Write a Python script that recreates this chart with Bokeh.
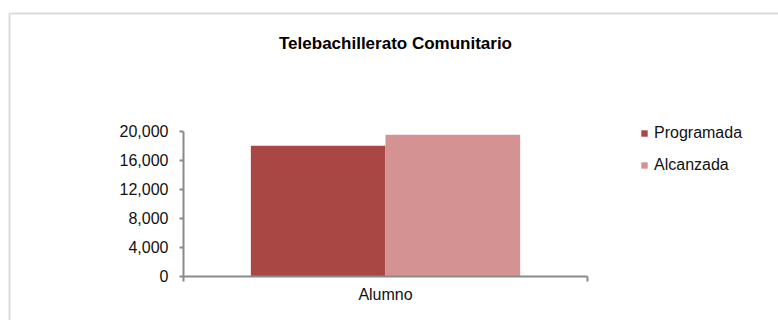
from bokeh.plotting import figure
from bokeh.models import (Range1d, FixedTicker, NumeralTickFormatter, Legend, LegendItem,
                          Label, BoxAnnotation, ColumnDataSource, LinearAxis)
from bokeh.embed import file_html
from bokeh.resources import INLINE

# ---- data ----
title = "Telebachillerato Comunitario"
categories = ["Alumno"]
series_names = ["Programada", "Alcanzada"]
programada = [18000]
alcanzada = [19500]
y_ticks = [0, 4000, 8000, 12000, 16000, 20000]
colors = ["#A94745", "#D49392"]

FONT = "Liberation Sans"
W, H = 778, 320
# plot-area placement on the canvas (pixels)
PX0, PX1 = 183, 587      # x extent of the category axis
PY0, PY1 = 275.7, 130.7  # y pixel of y_ticks[0] and y_ticks[-1]

ncat = len(categories)
ppx = (PX1 - PX0) / ncat
x_start = -PX0 / ppx
x_end = (W - PX0) / ppx
upp = (y_ticks[-1] - y_ticks[0]) / (PY0 - PY1)
y_start = y_ticks[0] - (H - PY0) * upp
y_end = y_ticks[0] + PY0 * upp

p = figure(width=W, height=H, output_backend="svg", toolbar_location=None,
           x_range=Range1d(x_start, x_end), y_range=Range1d(y_start, y_end),
           x_axis_location=None, y_axis_location=None,
           min_border=0)
p.outline_line_color = None
p.xgrid.visible = False
p.ygrid.visible = False
p.background_fill_color = "white"
p.border_fill_color = "white"

n = len(series_names)
group_width = 2.0 / 3.0
bar_w = group_width / n
values = [programada, alcanzada]
renderers = []
for k, (name, vals) in enumerate(zip(series_names, values)):
    xs = [i + 0.5 - group_width / 2 + bar_w * (k + 0.5) for i in range(ncat)]
    src = ColumnDataSource(dict(x=xs, top=vals))
    r = p.vbar(x="x", top="top", bottom=0, width=bar_w, source=src,
               fill_color=colors[k], line_color=None)
    renderers.append((name, r))

axis_color = "#8a8a8a"
# y axis
ya = LinearAxis(fixed_location=0, bounds=(y_ticks[0], y_ticks[-1]))
ya.ticker = FixedTicker(ticks=y_ticks, minor_ticks=[])
ya.formatter = NumeralTickFormatter(format="0,0")
ya.axis_line_color = axis_color
ya.axis_line_width = 2
ya.major_tick_line_color = axis_color
ya.major_tick_line_width = 2
ya.major_tick_out = 4
ya.major_tick_in = 0
ya.minor_tick_line_color = None
ya.major_label_text_font = FONT
ya.major_label_text_font_size = "16px"
ya.major_label_text_color = "#111111"
ya.major_label_standoff = 11
p.add_layout(ya, "left")

# x axis
centers = [i + 0.5 for i in range(ncat)]
bounds = list(range(ncat + 1))
xa = LinearAxis(fixed_location=y_ticks[0], bounds=(0, ncat))
xa.ticker = FixedTicker(ticks=centers, minor_ticks=bounds)
xa.major_label_overrides = {c: lab for c, lab in zip(centers, categories)}
xa.axis_line_color = axis_color
xa.axis_line_width = 2
xa.major_tick_line_color = None
xa.major_tick_out = 0
xa.major_tick_in = 0
xa.minor_tick_line_color = axis_color
xa.minor_tick_line_width = 2
xa.minor_tick_out = 5
xa.minor_tick_in = 0
xa.major_label_text_font = FONT
xa.major_label_text_font_size = "16px"
xa.major_label_text_color = "#111111"
xa.major_label_standoff = 5
p.add_layout(xa, "below")

# legend
legend = Legend(items=[LegendItem(label=nm, renderers=[r]) for nm, r in renderers],
                location=(640, 145.5), orientation="vertical",
                glyph_width=8, glyph_height=8, label_standoff=6, spacing=12,
                label_height=20, padding=0, margin=0,
                border_line_color=None, background_fill_alpha=0,
                label_text_font=FONT, label_text_font_size="16px",
                label_text_color="#111111")
p.add_layout(legend)

# title
p.add_layout(Label(x=395, y=H - 42.5, x_units="screen", y_units="screen", text=title,
                   text_font=FONT, text_font_size="17px", text_font_style="bold",
                   text_align="center", text_baseline="middle", text_color="#000000"))

# chart border (only its top and left edges are inside the picture)
p.add_layout(BoxAnnotation(left=9, right=2000, top=H - 13, bottom=-2000,
                           left_units="screen", right_units="screen",
                           top_units="screen", bottom_units="screen",
                           fill_alpha=0, line_color="#8c8c8c", line_width=2))

open("out.html", "w").write(file_html(p, INLINE))
